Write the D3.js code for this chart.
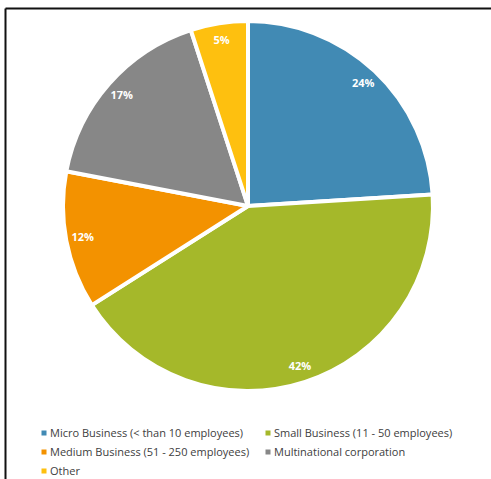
<!DOCTYPE html>
<html>
<head>
<meta charset="utf-8">
<script src="https://cdn.jsdelivr.net/npm/d3@7"></script>
<style>
  html, body { margin: 0; padding: 0; background: #fff; }
  svg { display: block; }
</style>
</head>
<body>
<svg id="chart" width="491" height="479"></svg>
<script>
// Business size share of respondents
const categories = [
  "Micro Business (< than 10 employees)",
  "Small Business (11 - 50 employees)",
  "Medium Business (51 - 250 employees)",
  "Multinational corporation",
  "Other"
];
const values = [24, 42, 12, 17, 5];
const colors = ["#418ab4", "#a5b82a", "#f39200", "#878787", "#fec00f"];

const svg = d3.select("#chart");
const W = 491, H = 479;

// outer frame (top and left edges visible)
svg.append("line").attr("x1", 5.5).attr("x2", W).attr("y1", 8.5).attr("y2", 8.5)
  .attr("stroke", "#111").attr("stroke-width", 2);
svg.append("line").attr("x1", 5.5).attr("x2", 5.5).attr("y1", 8.5).attr("y2", H)
  .attr("stroke", "#111").attr("stroke-width", 2);

const cx = 248, cy = 206, r = 185;
const data = categories.map((c, i) => ({ name: c, value: values[i], color: colors[i] }));

const pie = d3.pie().value(d => d.value).sort(null);
const arc = d3.arc().innerRadius(0).outerRadius(r);
const labelArc = d3.arc().innerRadius(r * 0.91).outerRadius(r * 0.91);

const g = svg.append("g").attr("transform", `translate(${cx},${cy})`);
const arcs = pie(data);

g.selectAll("path.slice").data(arcs).join("path")
  .attr("class", "slice")
  .attr("d", arc)
  .attr("fill", d => d.data.color)
  .attr("stroke", "#fff")
  .attr("stroke-width", 4)
  .attr("stroke-linejoin", "round");

g.selectAll("text.pct").data(arcs).join("text")
  .attr("class", "pct")
  .attr("transform", d => `translate(${labelArc.centroid(d)})`)
  .attr("text-anchor", "middle")
  .attr("dy", "0.35em")
  .attr("fill", "#fff")
  .attr("font-family", "'Open Sans', sans-serif")
  .attr("font-weight", "bold")
  .attr("font-size", 11)
  .text(d => d.data.value + "%");

// legend: two columns, three rows
const colX = [44, 268];
const rowY = [433, 452, 471];
const legend = svg.append("g");
data.forEach((d, i) => {
  const x = colX[i % 2], y = rowY[Math.floor(i / 2)];
  legend.append("rect").attr("x", x - 2.5).attr("y", y - 2.5)
    .attr("width", 5).attr("height", 5).attr("fill", d.color);
  legend.append("text").attr("x", x + 6).attr("y", y).attr("dy", "0.35em")
    .attr("fill", "#404040")
    .attr("font-family", "'Open Sans', sans-serif")
    .attr("font-size", 11)
    .text(d.name);
});
</script>
</body>
</html>
